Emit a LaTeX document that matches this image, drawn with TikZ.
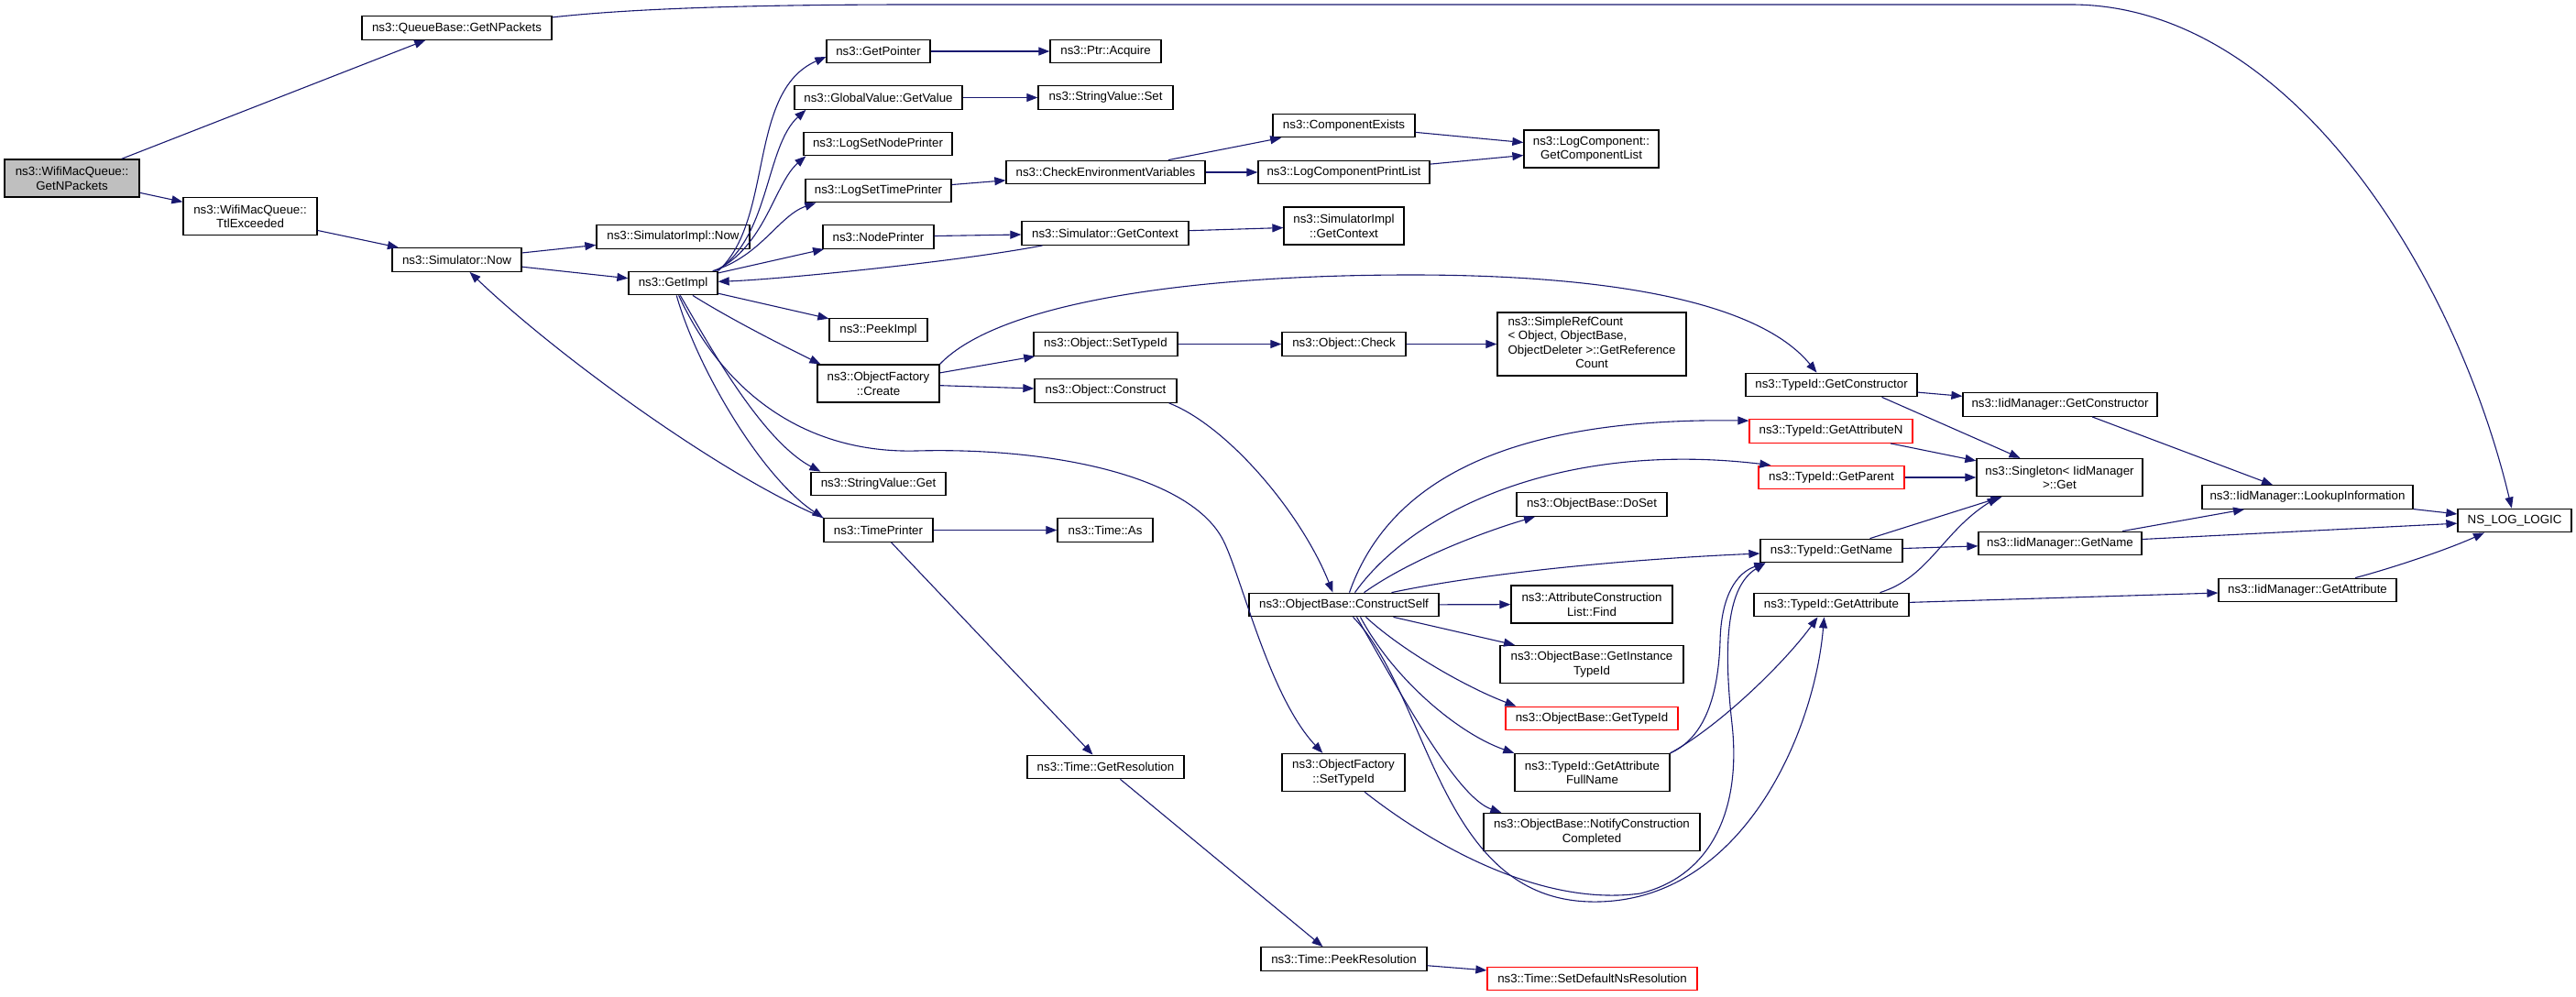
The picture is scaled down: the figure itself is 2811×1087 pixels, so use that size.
\documentclass[tikz,border=0pt]{standalone}
\usepackage{fontspec}
\setmainfont{Liberation Sans}
\usetikzlibrary{arrows.meta}
\definecolor{edgeblue}{RGB}{25,25,112}
\definecolor{grey75}{gray}{0.75}
\newcommand{\fnfont}{\fontsize{13.3}{15.5}\selectfont}

\begin{document}
\begin{tikzpicture}[x=1pt, y=-1pt,
fnbox/.style={rectangle, draw=black, fill=white, line width=1.3pt, font=\fnfont, inner sep=0pt, minimum height=25.5pt, align=center},
fnboxtwo/.style={fnbox, minimum height=41pt},
missingbox/.style={fnbox, draw=red},
rootbox/.style={fnboxtwo, fill=grey75},
calledge/.style={-{Triangle[length=12pt,width=9pt]}, draw=edgeblue, line width=1.1pt},
]
\useasboundingbox (0,0) rectangle (2811,1087);
%Nodes
\node[rootbox, minimum width=147pt] (wmqnpackets) at (78.5,194.5) {ns3::WifiMacQueue::\\GetNPackets};
\node[fnbox, minimum width=207pt] (qbnpackets) at (498.5,30.5) {ns3::QueueBase::GetNPackets};
\node[fnboxtwo, minimum width=146pt] (wmqttl) at (273,236) {ns3::WifiMacQueue::\\TtlExceeded};
\node[fnbox, minimum width=141pt] (simnow) at (498.5,283.5) {ns3::Simulator::Now};
\node[fnbox, minimum width=167pt] (simimplnow) at (734.5,258.5) {ns3::SimulatorImpl::Now};
\node[fnbox, minimum width=97pt] (getimpl) at (734.5,309) {ns3::GetImpl};
\node[fnbox, minimum width=113pt] (getpointer) at (958.5,56) {ns3::GetPointer};
\node[fnbox, minimum width=121pt] (ptracquire) at (1206.5,56) {ns3::Ptr::Acquire};
\node[fnbox, minimum width=183pt] (gvgetvalue) at (958.5,106.5) {ns3::GlobalValue::GetValue};
\node[fnbox, minimum width=147pt] (svset) at (1206.5,106.5) {ns3::StringValue::Set};
\node[fnbox, minimum width=162pt] (lognodeprinter) at (958,157) {ns3::LogSetNodePrinter};
\node[fnbox, minimum width=159pt] (logtimeprinter) at (958.5,208) {ns3::LogSetTimePrinter};
\node[fnbox, minimum width=217pt] (checkenv) at (1206.5,188) {ns3::CheckEnvironmentVariables};
\node[fnbox, minimum width=155pt] (compexists) at (1466.5,137) {ns3::ComponentExists};
\node[fnbox, minimum width=187pt] (logcompprint) at (1466.5,188) {ns3::LogComponentPrintList};
\node[fnboxtwo, minimum width=147pt] (getcomplist) at (1736.5,162.5) {ns3::LogComponent::\\GetComponentList};
\node[fnbox, minimum width=121pt] (nodeprinter) at (958.5,258.5) {ns3::NodePrinter};
\node[fnbox, minimum width=182pt] (simgetcontext) at (1206,254.5) {ns3::Simulator::GetContext};
\node[fnboxtwo, minimum width=131pt] (simimplgetcontext) at (1466.5,246.5) {ns3::SimulatorImpl\\::GetContext};
\node[fnbox, minimum width=107pt] (peekimpl) at (958.5,360) {ns3::PeekImpl};
\node[fnboxtwo, minimum width=133pt] (ofcreate) at (958.5,418.5) {ns3::ObjectFactory\\::Create};
\node[fnbox, minimum width=157pt] (objsettypeid) at (1206.5,375.5) {ns3::Object::SetTypeId};
\node[fnbox, minimum width=155pt] (objconstruct) at (1206.5,426.5) {ns3::Object::Construct};
\node[fnbox, minimum width=135pt] (objcheck) at (1466.5,375.5) {ns3::Object::Check};
\node[fnbox, minimum width=206pt, minimum height=69pt] (simplerefcount) at (1737,375.5) {\begin{tabular}{@{}c@{}}\multicolumn{1}{@{}l@{}}{ns3::SimpleRefCount}\\ \multicolumn{1}{@{}l@{}}{< Object, ObjectBase,}\\ ObjectDeleter >::GetReference\\ Count\end{tabular}};
\node[fnbox, minimum width=187pt] (tidgetconstructor) at (1998.5,420) {ns3::TypeId::GetConstructor};
\node[fnbox, minimum width=212pt] (iidgetconstructor) at (2248,441.5) {ns3::IidManager::GetConstructor};
\node[missingbox, minimum width=178pt] (tidgetattributen) at (1998,470.5) {ns3::TypeId::GetAttributeN};
\node[missingbox, minimum width=159pt] (tidgetparent) at (1998.5,521) {ns3::TypeId::GetParent};
\node[fnboxtwo, minimum width=181pt] (singletonget) at (2247.5,521) {ns3::Singleton< IidManager\\ >::Get};
\node[fnbox, minimum width=230pt] (iidlookup) at (2518,542.5) {ns3::IidManager::LookupInformation};
\node[fnbox, minimum width=124pt] (nsloglogic) at (2744,568) {NS\_LOG\_LOGIC};
\node[fnbox, minimum width=178pt] (iidgetname) at (2248,593) {ns3::IidManager::GetName};
\node[fnbox, minimum width=194pt] (iidgetattribute) at (2518,644) {ns3::IidManager::GetAttribute};
\node[fnbox, minimum width=155pt] (tidgetname) at (1998.5,601) {ns3::TypeId::GetName};
\node[fnbox, minimum width=169pt] (tidgetattribute) at (1998.5,660) {ns3::TypeId::GetAttribute};
\node[fnbox, minimum width=164pt] (obdoset) at (1737,550.5) {ns3::ObjectBase::DoSet};
\node[fnbox, minimum width=207pt] (obconstructself) at (1466.5,660) {ns3::ObjectBase::ConstructSelf};
\node[fnboxtwo, minimum width=176pt] (acllistfind) at (1737,659.5) {ns3::AttributeConstruction\\List::Find};
\node[fnboxtwo, minimum width=200pt] (obgetinstancetypeid) at (1737,725) {ns3::ObjectBase::GetInstance\\TypeId};
\node[missingbox, minimum width=188pt] (obgettypeid) at (1737,784) {ns3::ObjectBase::GetTypeId};
\node[fnboxtwo, minimum width=169pt] (tidgetattrfullname) at (1737.5,843) {ns3::TypeId::GetAttribute\\FullName};
\node[fnboxtwo, minimum width=236pt] (obnotify) at (1737,908) {ns3::ObjectBase::NotifyConstruction\\Completed};
\node[fnboxtwo, minimum width=134pt] (ofsettypeid) at (1466,843) {ns3::ObjectFactory\\::SetTypeId};
\node[fnbox, minimum width=171pt] (timegetres) at (1206.5,837) {ns3::Time::GetResolution};
\node[fnbox, minimum width=181pt] (timepeekres) at (1466.5,1046.5) {ns3::Time::PeekResolution};
\node[missingbox, minimum width=229pt] (timesetdefault) at (1737.5,1068) {ns3::Time::SetDefaultNsResolution};
\node[fnbox, minimum width=147pt] (svget) at (958.5,528) {ns3::StringValue::Get};
\node[fnbox, minimum width=119pt] (timeprinter) at (958.5,578.5) {ns3::TimePrinter};
\node[fnbox, minimum width=104pt] (timeas) at (1206,578.5) {ns3::Time::As};

%Lines
\foreach \from/\to in {wmqnpackets/qbnpackets, wmqnpackets/wmqttl, wmqttl/simnow, simnow/simimplnow, simnow/getimpl, getimpl/nodeprinter, getimpl/peekimpl, getpointer/ptracquire, gvgetvalue/svset, logtimeprinter/checkenv, checkenv/compexists, checkenv/logcompprint, compexists/getcomplist, logcompprint/getcomplist, nodeprinter/simgetcontext, simgetcontext/simimplgetcontext, ofcreate/objsettypeid, ofcreate/objconstruct, objsettypeid/objcheck, objcheck/simplerefcount, tidgetconstructor/iidgetconstructor, tidgetparent/singletonget, tidgetname/iidgetname, tidgetattribute/iidgetattribute, iidgetname/nsloglogic, iidlookup/nsloglogic, obconstructself/acllistfind, timeprinter/timeas, timepeekres/timesetdefault}
  \draw[calledge] (\from) -- (\to);

\draw[calledge] (qbnpackets) .. controls (700,8) and (850,5) .. (1000,5) -- (2260,5) .. controls (2500,5) and (2680,300) .. (nsloglogic);
\draw[calledge] (timeprinter.north west) .. controls (790,520) and (610,390) .. (simnow);
\draw[calledge] (getimpl.north east) .. controls (845,240) and (815,100) .. ([yshift=-6pt]getpointer.west);
\draw[calledge] ([xshift=-2pt]getimpl.north east) .. controls (840,260) and (835,160) .. ([xshift=13pt]gvgetvalue.south west);
\draw[calledge] ([xshift=-4pt]getimpl.north east) .. controls (835,270) and (845,200) .. ([xshift=3pt]lognodeprinter.south west);
\draw[calledge] ([xshift=-6pt]getimpl.north east) .. controls (830,280) and (850,235) .. ([xshift=12pt]logtimeprinter.south west);
\draw[calledge] (simgetcontext) .. controls (1050,285) and (850,305) .. (getimpl);
\draw[calledge] (getimpl) .. controls (800,350) and (860,380) .. ([xshift=4pt]ofcreate.north west);
\draw[calledge] (getimpl) .. controls (770,370) and (830,480) .. ([xshift=11pt]svget.north west);
\draw[calledge] (getimpl) .. controls (760,400) and (830,520) .. (timeprinter.north west);
\draw[calledge] (getimpl) .. controls (790,430) and (880,495) .. (1000,492) .. controls (1150,488) and (1300,520) .. (1335,590) .. controls (1355,630) and (1385,760) .. ([xshift=45pt]ofsettypeid.north west);
\draw[calledge] (ofcreate.north east) .. controls (1090,330) and (1300,300) .. (1540,300) .. controls (1760,300) and (1920,330) .. ([xshift=-16pt]tidgetconstructor.north);
\draw[calledge] ([xshift=-9pt]objconstruct.south east) .. controls (1340,465) and (1420,560) .. ([xshift=-12pt]obconstructself.north);
\draw[calledge] ([xshift=55pt]tidgetconstructor.south) -- ([xshift=-43pt]singletonget.north);
\draw[calledge] ([xshift=35pt]iidgetconstructor.south) -- ([xshift=-38pt]iidlookup.north);
\draw[calledge] ([xshift=65pt]tidgetattributen.south) -- ([yshift=-3pt]singletonget.north west);
\draw[calledge] ([xshift=42pt]tidgetname.north) -- ([xshift=-63pt]singletonget.south);
\draw[calledge] ([xshift=53pt]tidgetattribute.north) .. controls (2105,630) and (2120,580) .. ([xshift=-67pt]singletonget.south);
\draw[calledge] ([xshift=68pt]iidgetname.north) -- ([xshift=-69pt]iidlookup.south);
\draw[calledge] ([xshift=52pt]iidgetattribute.north) .. controls (2610,620) and (2670,600) .. ([xshift=-33pt]nsloglogic.south);
\draw[calledge] ([xshift=6pt]obconstructself.north) .. controls (1510,540) and (1620,455) .. ([yshift=-2pt]tidgetattributen.north west);
\draw[calledge] ([xshift=12pt]obconstructself.north) .. controls (1540,560) and (1700,480) .. ([xshift=14pt]tidgetparent.north west);
\draw[calledge] ([xshift=22pt]obconstructself.north) .. controls (1540,610) and (1620,580) .. ([xshift=-62pt]obdoset.south);
\draw[calledge] ([xshift=52pt]obconstructself.north) .. controls (1620,625) and (1780,610) .. ([yshift=-3pt]tidgetname.west);
\draw[calledge] ([xshift=54pt]obconstructself.south) -- ([xshift=-84pt]obgetinstancetypeid.north);
\draw[calledge] ([xshift=24pt]obconstructself.south) .. controls (1530,710) and (1600,750) .. ([xshift=12pt]obgettypeid.north west);
\draw[calledge] ([xshift=18pt]obconstructself.south) .. controls (1520,740) and (1590,800) .. (tidgetattrfullname.north west);
\draw[calledge] ([xshift=14pt]obconstructself.south) .. controls (1530,760) and (1590,870) .. ([xshift=20pt]obnotify.north west);
\draw[calledge] ([xshift=10pt]obconstructself.south) .. controls (1560,760) and (1570,980) .. (1735,984) .. controls (1900,988) and (1980,800) .. ([xshift=-8pt]tidgetattribute.south);
\draw[calledge] ([xshift=23pt]ofsettypeid.south) .. controls (1560,920) and (1680,990) .. (1790,975) .. controls (1870,955) and (1900,880) .. (1890,790) .. controls (1880,700) and (1885,640) .. ([xshift=6pt]tidgetname.south west);
\draw[calledge] (tidgetattrfullname.north east) .. controls (1860,805) and (1875,760) .. (1877,700) .. controls (1878,650) and (1895,625) .. ([xshift=6pt]tidgetname.south west);
\draw[calledge] (tidgetattrfullname.north east) .. controls (1880,790) and (1950,720) .. ([xshift=-15pt]tidgetattribute.south);
\draw[calledge] ([xshift=14pt]timeprinter.south) -- ([xshift=-14pt]timegetres.north);
\draw[calledge] ([xshift=16pt]timegetres.south) -- ([xshift=-23pt]timepeekres.north);

\end{tikzpicture}
\end{document}
